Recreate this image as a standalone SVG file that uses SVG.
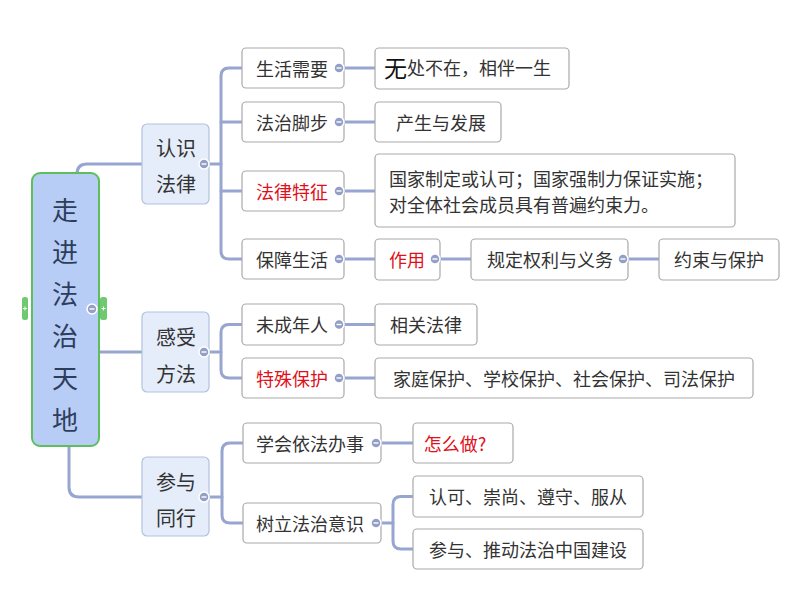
<svg xmlns="http://www.w3.org/2000/svg" width="794" height="596" viewBox="0 0 794 596">
<style>
text{font-family:"Noto Sans CJK SC","Noto Sans",sans-serif;dominant-baseline:central;text-anchor:middle;fill:#333}
.root{fill:#b7cdf6;stroke:#5cbf5c;stroke-width:2}
.l1{fill:#e5edfa;stroke:#b3c1dc;stroke-width:1.2}
.l2{fill:#fff;stroke:#a9a9a9;stroke-width:1.2}
.rt{font-size:26px;fill:#2f3d5c}
.t1{font-size:20px}
.t2{font-size:18px}
.red{fill:#e0101a}
.con path{fill:none;stroke:#97a6d0;stroke-width:3;stroke-linecap:round}
.col circle{fill:#939fc6;stroke:#fff;stroke-width:1.5}
.col path{stroke:#fff;stroke-width:1.4}
.hd rect{fill:#6fc96f}
.hd path{stroke:#fff;stroke-width:1}
</style>
<g class="con" id="connectors">
<path d="M77 174 Q77 164 87 164 H142"/>
<path d="M99 352 H142"/>
<path d="M69 446 V487 Q69 497 79 497 H142"/>
<path d="M209 164 H221"/>
<path d="M242 68 H229 Q221 68 221 76 V251 Q221 259 229 259 H242"/>
<path d="M221 122 H242"/>
<path d="M221 191 H242"/>
<path d="M209 352 H221"/>
<path d="M242 324.5 H229 Q221 324.5 221 332.5 V370 Q221 378 229 378 H242"/>
<path d="M209 497 H222"/>
<path d="M243 443 H230 Q222 443 222 451 V515 Q222 523 230 523 H243"/>
<path d="M344 68 H375"/>
<path d="M344 122 H375"/>
<path d="M344 191 H375"/>
<path d="M344 259 H375"/>
<path d="M440 259 H471"/>
<path d="M628 259 H659"/>
<path d="M344 324.5 H375"/>
<path d="M344 378 H375"/>
<path d="M381 443 H413"/>
<path d="M381 523 H393"/>
<path d="M413 496.5 H401 Q393 496.5 393 504.5 V541 Q393 549 401 549 H413"/>
</g>
<g id="root">
<rect class="root" x="32" y="173" width="67" height="273" rx="8"/>
<text class="rt" x="65" y="208">走</text>
<text class="rt" x="65" y="250">进</text>
<text class="rt" x="65" y="292">法</text>
<text class="rt" x="65" y="334">治</text>
<text class="rt" x="65" y="376">天</text>
<text class="rt" x="65" y="418">地</text>
<g class="hd"><rect x="22" y="297" width="6" height="23" rx="2.5"/><path d="M23 308.5 H27 M25 306.5 V310.5"/>
<rect x="100" y="297" width="7" height="23" rx="2.5"/><path d="M101.5 308.5 H105.5 M103.5 306.5 V310.5"/></g>
<g class="col"><circle cx="92" cy="309" r="5"/><path d="M89.5 309 H94.5"/></g>
</g>
<g id="n-renshi">
<rect class="l1" x="142" y="124" width="67" height="80" rx="5"/>
<text class="t1" x="176" y="147">认识</text>
<text class="t1" x="176" y="183">法律</text>
<g class="col"><circle cx="204" cy="164" r="5"/><path d="M201.5 164 H206.5"/></g>
</g>
<g id="n-ganshou">
<rect class="l1" x="142" y="312" width="67" height="80" rx="5"/>
<text class="t1" x="176" y="336">感受</text>
<text class="t1" x="176" y="373">方法</text>
<g class="col"><circle cx="204" cy="352" r="5"/><path d="M201.5 352 H206.5"/></g>
</g>
<g id="n-canyu">
<rect class="l1" x="142" y="457" width="67" height="79" rx="5"/>
<text class="t1" x="176" y="481">参与</text>
<text class="t1" x="176" y="517">同行</text>
<g class="col"><circle cx="204" cy="497" r="5"/><path d="M201.5 497 H206.5"/></g>
</g>
<g id="n-shenghuo">
<rect class="l2" x="242" y="48" width="102" height="40" rx="4"/>
<text class="t2" x="292" y="68">生活需要</text>
<g class="col"><circle cx="339" cy="68" r="5"/><path d="M336.5 68 H341.5"/></g>
</g>
<g id="n-jiaobu">
<rect class="l2" x="242" y="102" width="102" height="40" rx="4"/>
<text class="t2" x="292" y="122">法治脚步</text>
<g class="col"><circle cx="339" cy="122" r="5"/><path d="M336.5 122 H341.5"/></g>
</g>
<g id="n-tezheng">
<rect class="l2" x="242" y="171" width="102" height="40" rx="4"/>
<text class="t2 red" x="292" y="191">法律特征</text>
<g class="col"><circle cx="339" cy="191" r="5"/><path d="M336.5 191 H341.5"/></g>
</g>
<g id="n-baozhang">
<rect class="l2" x="242" y="239" width="102" height="40" rx="4"/>
<text class="t2" x="292" y="259">保障生活</text>
<g class="col"><circle cx="339" cy="259" r="5"/><path d="M336.5 259 H341.5"/></g>
</g>
<g id="n-wuchu">
<rect class="l2" x="375" y="48" width="194" height="41" rx="4"/>
<text x="384" y="67" style="text-anchor:start"><tspan style="font-size:23px;fill:#111">无</tspan><tspan style="font-size:18px">处不在，相伴一生</tspan></text>
</g>
<g id="n-chansheng">
<rect class="l2" x="375" y="102" width="126" height="40" rx="4"/>
<text class="t2" x="441" y="122">产生与发展</text>
</g>
<g id="n-guojia">
<rect class="l2" x="375" y="154" width="360" height="73" rx="4"/>
<text class="t2" x="389" y="178" style="text-anchor:start">国家制定或认可；国家强制力保证实施；</text>
<text class="t2" x="389" y="204" style="text-anchor:start">对全体社会成员具有普遍约束力。</text>
</g>
<g id="n-zuoyong">
<rect class="l2" x="375" y="239" width="65" height="41" rx="4"/>
<text class="t2 red" x="407" y="259">作用</text>
<g class="col"><circle cx="435" cy="259" r="5"/><path d="M432.5 259 H437.5"/></g>
</g>
<g id="n-guiding">
<rect class="l2" x="471" y="239" width="157" height="41" rx="4"/>
<text class="t2" x="550" y="259">规定权利与义务</text>
<g class="col"><circle cx="623" cy="259" r="5"/><path d="M620.5 259 H625.5"/></g>
</g>
<g id="n-yueshu">
<rect class="l2" x="659" y="239" width="120" height="41" rx="4"/>
<text class="t2" x="719" y="259">约束与保护</text>
</g>
<g id="n-weichengnian">
<rect class="l2" x="242" y="304" width="102" height="41" rx="4"/>
<text class="t2" x="292" y="324">未成年人</text>
<g class="col"><circle cx="339" cy="324.5" r="5"/><path d="M336.5 324.5 H341.5"/></g>
</g>
<g id="n-teshu">
<rect class="l2" x="242" y="358" width="102" height="40" rx="4"/>
<text class="t2 red" x="292" y="378">特殊保护</text>
<g class="col"><circle cx="339" cy="378" r="5"/><path d="M336.5 378 H341.5"/></g>
</g>
<g id="n-xiangguan">
<rect class="l2" x="375" y="304" width="102" height="41" rx="4"/>
<text class="t2" x="426" y="324">相关法律</text>
</g>
<g id="n-jiating">
<rect class="l2" x="375" y="358" width="378" height="40" rx="4"/>
<text class="t2" x="564" y="378">家庭保护、学校保护、社会保护、司法保护</text>
</g>
<g id="n-xuehui">
<rect class="l2" x="243" y="423" width="138" height="40" rx="4"/>
<text class="t2" x="310" y="443">学会依法办事</text>
<g class="col"><circle cx="376" cy="443" r="5"/><path d="M373.5 443 H378.5"/></g>
</g>
<g id="n-shuli">
<rect class="l2" x="243" y="503" width="138" height="40" rx="4"/>
<text class="t2" x="310" y="523">树立法治意识</text>
<g class="col"><circle cx="376" cy="523" r="5"/><path d="M373.5 523 H378.5"/></g>
</g>
<g id="n-zenme">
<rect class="l2" x="413" y="423" width="100" height="40" rx="4"/>
<text class="t2 red" x="455" y="443">怎么做?</text>
</g>
<g id="n-renke">
<rect class="l2" x="413" y="476" width="230" height="41" rx="4"/>
<text class="t2" x="528" y="496">认可、崇尚、遵守、服从</text>
</g>
<g id="n-tuidong">
<rect class="l2" x="413" y="529" width="230" height="40" rx="4"/>
<text class="t2" x="528" y="549">参与、推动法治中国建设</text>
</g>
</svg>
